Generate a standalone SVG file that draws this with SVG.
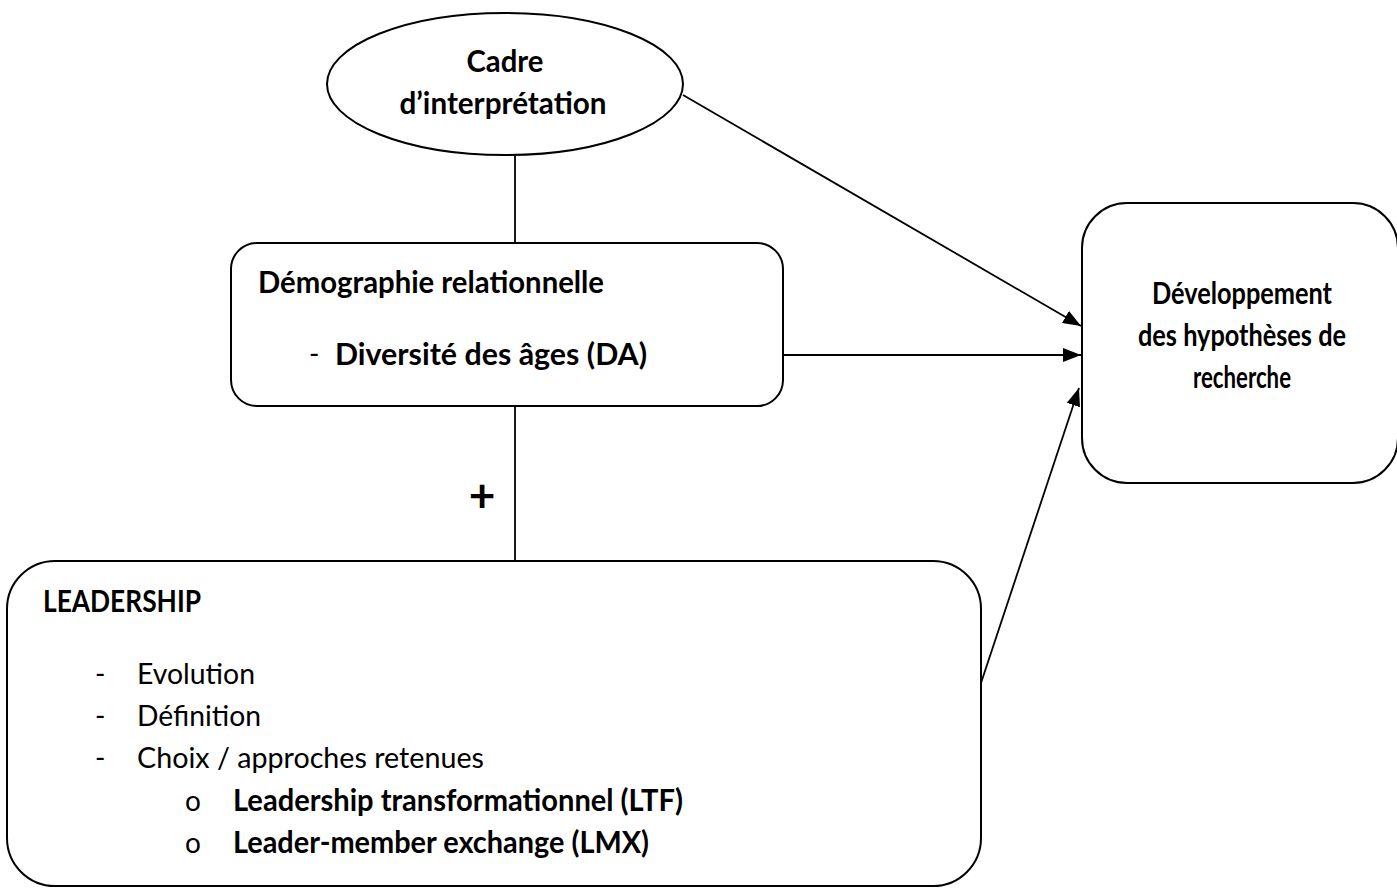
<svg xmlns="http://www.w3.org/2000/svg" width="1397" height="889" viewBox="0 0 1397 889">
<style>
.shape{fill:#fff;stroke:#000;stroke-width:2}
.ln{stroke:#000;stroke-width:1.8;fill:none}
text{font-family:Lato,"Open Sans","Liberation Sans",sans-serif;fill:#000;font-size:28px}
.b{font-weight:bold;font-size:30px}
.c{text-anchor:middle}
.plus{font-weight:bold;font-size:46px;text-anchor:middle}
</style>
<defs>
<marker id="ah" markerWidth="18" markerHeight="14" refX="18" refY="7" orient="auto" markerUnits="userSpaceOnUse" viewBox="0 0 18 14">
<path d="M0,0 L18,7 L0,14 Z" fill="#000"/>
</marker>
</defs>
<rect width="1397" height="889" fill="#fff"/>
<g id="connectors">
<line class="ln" x1="515" y1="155" x2="515" y2="243"/>
<line class="ln" x1="515" y1="406" x2="515" y2="561"/>
<line class="ln" x1="683" y1="95" x2="1081" y2="326" marker-end="url(#ah)"/>
<line class="ln" x1="783" y1="355" x2="1081" y2="355" marker-end="url(#ah)"/>
<line class="ln" x1="981" y1="683" x2="1079" y2="388" marker-end="url(#ah)"/>
<text class="plus" x="482" y="512">+</text>
</g>
<g id="cadre">
<ellipse class="shape" cx="505" cy="84" rx="178" ry="71"/>
<text class="b c" x="505" y="72" textLength="77" lengthAdjust="spacingAndGlyphs">Cadre</text>
<text class="b c" x="503" y="114" textLength="207" lengthAdjust="spacingAndGlyphs">d’interprétation</text>
</g>
<g id="demographie">
<rect class="shape" x="231" y="243" width="552" height="163" rx="26"/>
<text class="b" x="258" y="293" textLength="346" lengthAdjust="spacingAndGlyphs">Démographie relationnelle</text>
<text x="309" y="364">-</text>
<text class="b" x="335" y="365" textLength="312" lengthAdjust="spacingAndGlyphs">Diversité des âges (DA)</text>
</g>
<g id="developpement">
<rect class="shape" x="1082" y="203" width="316" height="280" rx="45"/>
<text class="b c" x="1242" y="304" textLength="180" lengthAdjust="spacingAndGlyphs">Développement</text>
<text class="b c" x="1242" y="346" textLength="208" lengthAdjust="spacingAndGlyphs">des hypothèses de</text>
<text class="b c" x="1242" y="388" textLength="98" lengthAdjust="spacingAndGlyphs">recherche</text>
</g>
<g id="leadership">
<rect class="shape" x="7" y="561" width="974" height="325" rx="48"/>
<text class="b" x="43" y="612" textLength="158" lengthAdjust="spacingAndGlyphs">LEADERSHIP</text>
<text x="95" y="684">-</text>
<text x="137" y="684" textLength="118" lengthAdjust="spacingAndGlyphs">Evolution</text>
<text x="95" y="726">-</text>
<text x="137" y="726" textLength="124" lengthAdjust="spacingAndGlyphs">Définition</text>
<text x="95" y="768">-</text>
<text x="137" y="768" textLength="347" lengthAdjust="spacingAndGlyphs">Choix / approches retenues</text>
<text x="185" y="811">o</text>
<text class="b" x="233" y="811" textLength="450" lengthAdjust="spacingAndGlyphs">Leadership transformationnel (LTF)</text>
<text x="185" y="853">o</text>
<text class="b" x="233" y="853" textLength="416" lengthAdjust="spacingAndGlyphs">Leader-member exchange (LMX)</text>
</g>
</svg>
